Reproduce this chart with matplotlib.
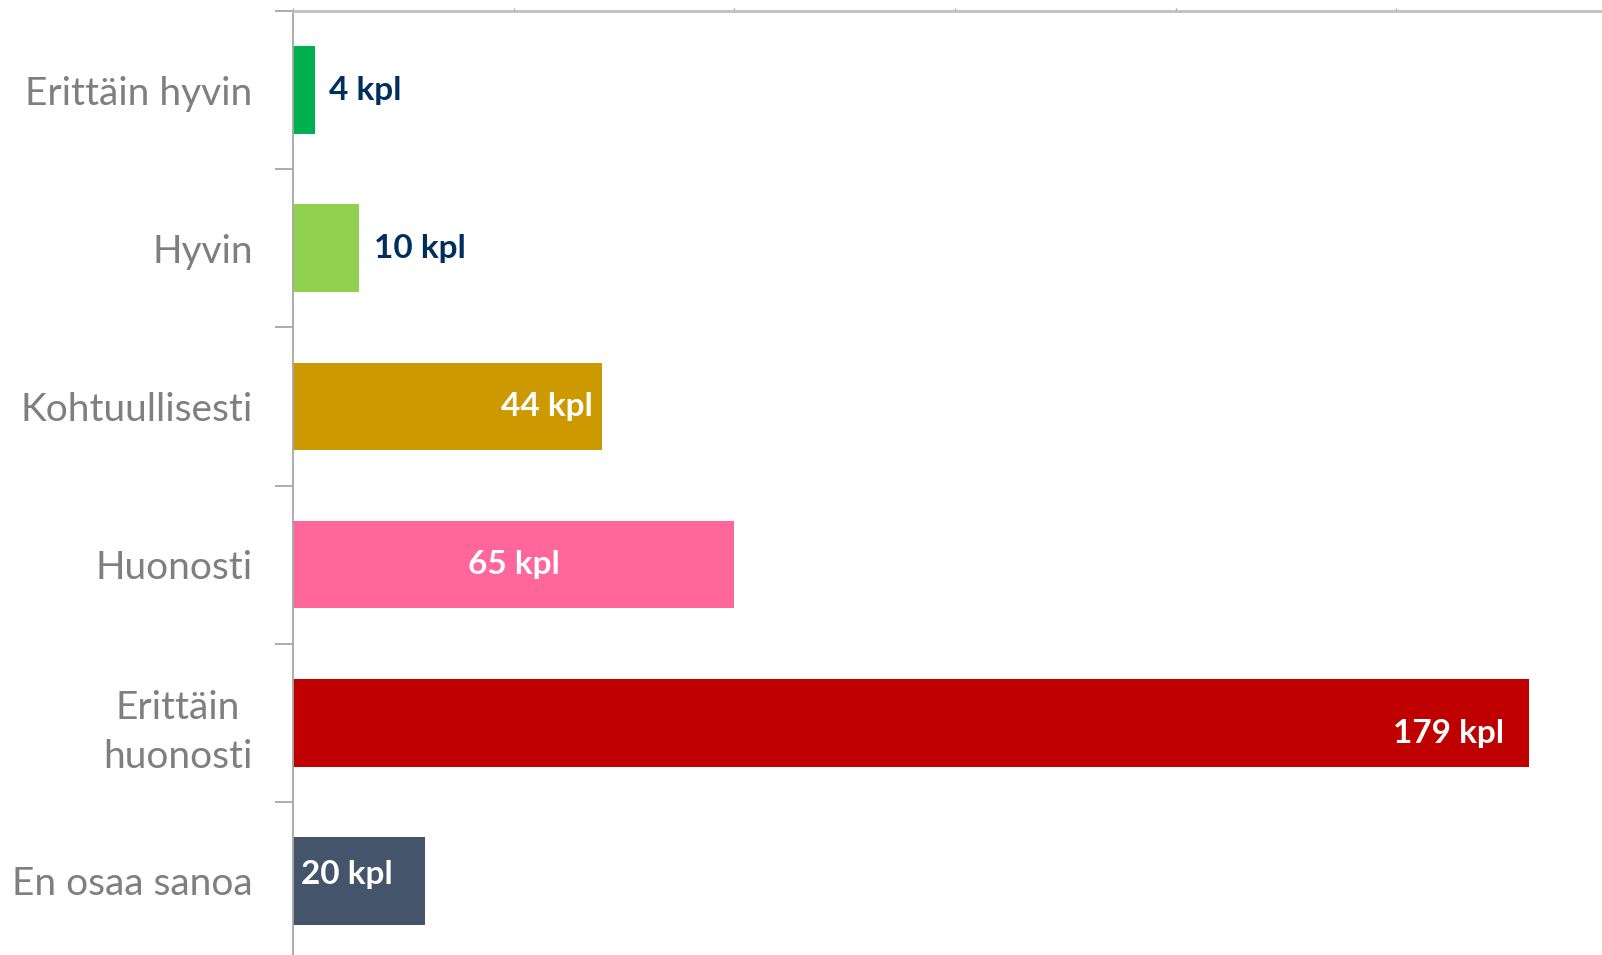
import numpy as np
import matplotlib.pyplot as plt

categories = ["Erittäin hyvin", "Hyvin", "Kohtuullisesti", "Huonosti", "Erittäin\nhuonosti", "En osaa sanoa"]
shares = [1, 3, 14, 20, 56, 6]  # bar length, % of answers
counts = [4, 10, 44, 65, 179, 20]
colors = ["#00B050", "#92D050", "#CC9900", "#FF6699", "#C00000", "#44546A"]

plt.rcParams['font.family'] = ['Lato', 'DejaVu Sans']

fig = plt.figure(figsize=(16.02, 9.55), dpi=100)
# axes runs past the right and bottom edges, as in the cropped original
ax = fig.add_axes([293 / 1602, 1 - 960 / 955, 1324 / 1602, 949 / 955])

y = np.arange(len(categories))
ax.barh(y, shares, height=0.555, color=colors)
ax.set_xlim(0, 60)
ax.set_ylim(len(categories) - 0.5, -0.5)

# value labels, placed like the original
navy = "#002F5F"
fs = 24
place = ["out", "out", "in_right", "center", "in_right", "in_left"]
for i, (s, c, p) in enumerate(zip(shares, counts, place)):
    txt = f"{c} kpl"
    if p == "out":
        ax.text(s + 0.65, i, txt, ha="left", va="center", color=navy, fontsize=fs, fontweight="bold")
    elif p == "center":
        ax.text(s / 2, i, txt, ha="center", va="center", color="white", fontsize=fs, fontweight="bold")
    elif p == "in_right":
        dy, off = (0.07, 1.1) if c == 179 else (0, 0.4)
        ax.text(s - off, i + dy, txt, ha="right", va="center", color="white", fontsize=fs, fontweight="bold")
    else:
        ax.text(0.35, i - 0.04, txt, ha="left", va="center", color="white", fontsize=fs, fontweight="bold")

# category boundaries as major ticks, names on minor ticks
ax.set_yticks(np.arange(-0.5, len(categories) + 0.5, 1))
ax.set_yticklabels([])
ax.set_yticks(y, minor=True)
ax.set_yticklabels(categories, minor=True, fontsize=28, color="#7F7F7F",
                   linespacing=1.45, multialignment="center")
ax.tick_params(axis="y", which="major", length=13, width=1.3, color="#A6A6A6")
ax.tick_params(axis="y", which="minor", length=0, pad=29)

ax.xaxis.tick_top()
ax.set_xticks(np.arange(0, 61, 10))
ax.set_xticklabels([])
ax.tick_params(axis="x", length=2, width=1, color="#A6A6A6")

for side in ["right", "bottom"]:
    ax.spines[side].set_visible(False)
ax.spines["top"].set_color("#BFBFBF")
ax.spines["top"].set_linewidth(2)
ax.spines["left"].set_color("#A6A6A6")
ax.spines["left"].set_linewidth(1.3)

fig.savefig("out.png", dpi=100)
